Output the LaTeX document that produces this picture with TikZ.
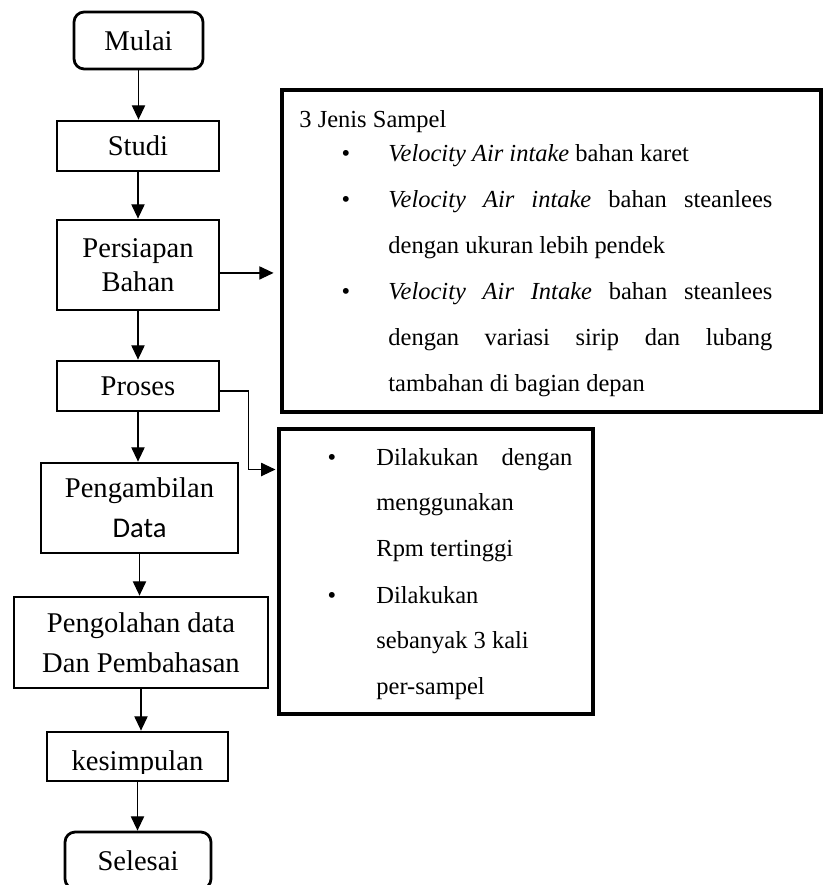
\documentclass[tikz,border=0pt]{standalone}
\usepackage{fontspec}
\setmainfont{Liberation Serif}
\newfontfamily\datafont{Carlito}
\usetikzlibrary{arrows.meta, positioning}
\def\pxu{0.49pt}

\begin{document}
\begin{tikzpicture}[x=0.49pt, y=-0.49pt,
	proc/.style={draw, line width=1.35pt, align=center, inner sep=0pt, font=\fontsize{14}{17}\selectfont},
	terminal/.style={proc, rounded corners=5pt},
	infobox/.style={draw, line width=1.5pt, inner sep=0pt},
	isi/.style={anchor=base west, inner sep=0pt, align=justify, font=\fontsize{12}{22.5}\selectfont},
	titik/.style={anchor=base, inner sep=0pt, font=\fontsize{12}{22.5}\selectfont},
	panah/.style={line width=0.6pt, -{Triangle[length=7pt,width=6.5pt]}}]
	\clip (0,0) rectangle (823,885);
	% alur utama
	\node[terminal, minimum width=129*\pxu, minimum height=57*\pxu] (mulai) at (138.5,40.5) {Mulai};
	\node[proc, minimum width=162*\pxu, minimum height=50*\pxu] (studi) at (138,146) {Studi};
	\node[proc, minimum width=162*\pxu, minimum height=90*\pxu, font=\fontsize{14}{16.7}\selectfont] (bahan) at (138,265) {Persiapan\\Bahan};
	\node[proc, minimum width=162*\pxu, minimum height=50*\pxu] (proses) at (138,386) {Proses};
	\node[proc, minimum width=197*\pxu, minimum height=90*\pxu, font=\fontsize{14}{19.6}\selectfont] (ambil) at (139.5,508) {Pengambilan\\{\datafont Data}};
	\node[proc, minimum width=254*\pxu, minimum height=91*\pxu, font=\fontsize{14}{19.6}\selectfont] (olah) at (141,642.5) {Pengolahan data\\Dan Pembahasan};
	\node[proc, minimum width=181*\pxu, minimum height=49*\pxu] (simpul) at (137.5,756.5) {};
	\begin{scope}
		\clip (simpul.north west) rectangle ([yshift=4.5pt]simpul.south east);
		\node[anchor=base, inner sep=0pt, font=\fontsize{14}{17}\selectfont] (simpultxt) at (137.5,770) {kesimpulan};
	\end{scope}
	\node[terminal, minimum width=146*\pxu, minimum height=57*\pxu] (selesai) at (138,860.5) {Selesai};
	\foreach \a/\b in {mulai/studi, studi/bahan, bahan/proses, proses/ambil, ambil/olah, olah/simpul, simpul/selesai}
		\draw[panah] (\a.south) -- (\a.south |- \b.north);
	% keterangan sampel
	\node[infobox, minimum width=539*\pxu, minimum height=322*\pxu] (sampel) at (551.5,251) {};
	\node[isi, align=left] (judul) at (299,128) {3 Jenis Sampel};
	\foreach \y in {162,208,300}
		\node[titik] at (346,\y) {\textbullet};
	\node[isi, text width=384*\pxu] (jenisA) at (388,162) {\textit{Velocity Air intake} bahan karet};
	\node[isi, text width=384*\pxu] (jenisB) at (388,208) {\textit{Velocity Air intake} bahan steanlees\linebreak dengan ukuran lebih pendek};
	\node[isi, text width=384*\pxu] (jenisC) at (388,300) {\textit{Velocity Air Intake} bahan steanlees\linebreak dengan variasi sirip dan lubang\linebreak tambahan di bagian depan};
	% keterangan pengambilan data
	\node[infobox, minimum width=314*\pxu, minimum height=285*\pxu] (catatan) at (436,571.5) {};
	\foreach \y in {465,603}
		\node[titik] at (332,\y) {\textbullet};
	\node[isi, text width=196*\pxu] (rpm) at (376,465) {Dilakukan dengan\linebreak menggunakan\newline Rpm tertinggi};
	\node[isi, text width=196*\pxu] (ulang) at (376,603) {Dilakukan\newline sebanyak 3 kali\newline per-sampel};
	\coordinate (bahanout) at ([yshift=-3.9pt]bahan.east);
	\draw[panah] (bahanout) -- ([xshift=-3.4pt]sampel.west |- bahanout);
	\draw[panah] ([yshift=-2.5pt]proses.east) -- ++(28,0) |- ([xshift=-1pt,yshift=-20.6pt]catatan.north west);
\end{tikzpicture}
\end{document}
